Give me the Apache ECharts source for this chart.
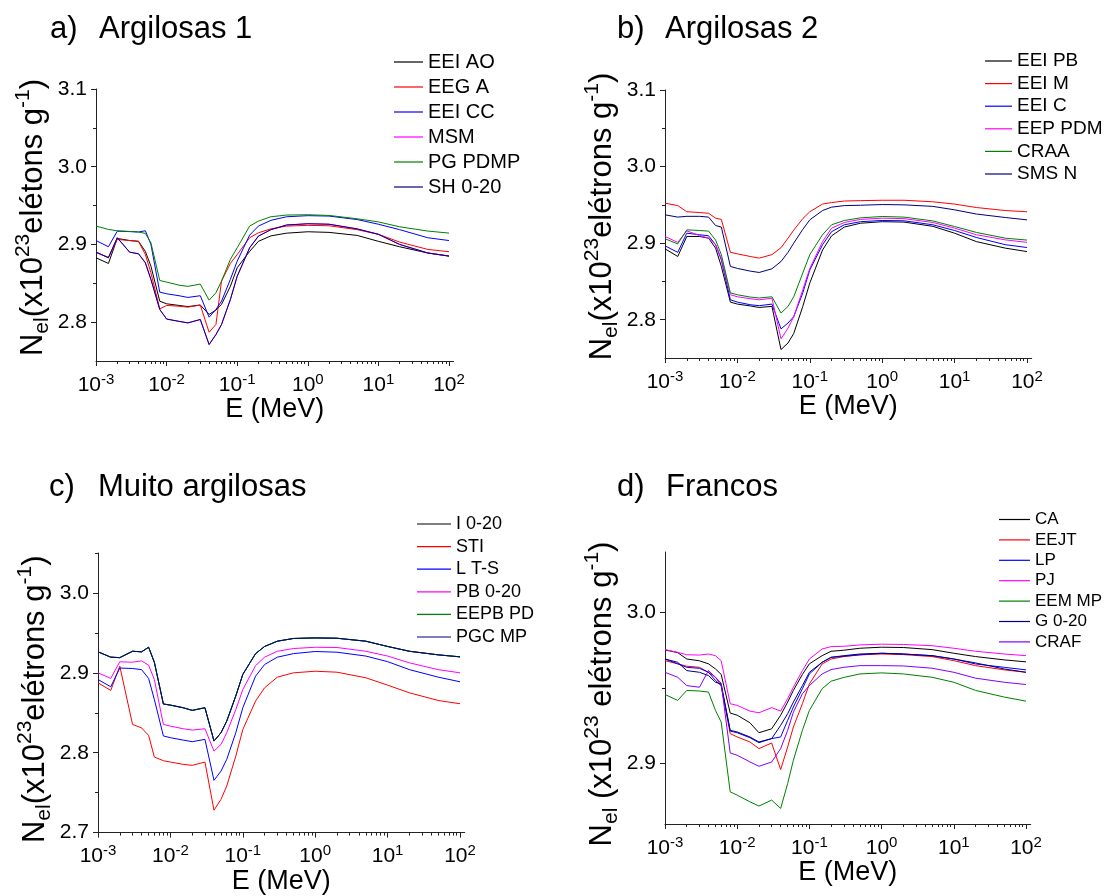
<!DOCTYPE html>
<html><head><meta charset="utf-8">
<script src="https://cdn.jsdelivr.net/npm/echarts@6/dist/echarts.min.js"></script>
<style>html,body{margin:0;padding:0;background:#fff}#c{width:1105px;height:896px}</style>
</head><body><div id="c"></div>
<script>
// Photon energy grid (MeV)
const energies = [0.001,0.0015,0.002,0.003,0.004,0.005,0.006,0.008,0.01,0.015,0.02,0.03,0.04,0.05,0.06,0.08,0.1,0.15,0.2,0.3,0.5,1,2,5,10,20,50,100];

// a) Argilosas 1
const a_EEI_AO  = [2.8828,2.8755,2.9077,2.905,2.904,2.891,2.872,2.827,2.8236,2.8215,2.820,2.822,2.810,2.8155,2.823,2.846,2.870,2.891,2.904,2.911,2.9145,2.9163,2.9155,2.9116,2.904,2.897,2.889,2.885];
const a_EEG_A   = [2.890,2.883,2.9064,2.905,2.904,2.887,2.8635,2.817,2.8215,2.8205,2.8193,2.822,2.787,2.797,2.853,2.8755,2.887,2.9086,2.915,2.920,2.9236,2.9245,2.924,2.919,2.913,2.903,2.8936,2.8906];
const a_EEI_CC  = [2.905,2.897,2.917,2.9165,2.916,2.9176,2.900,2.8386,2.8365,2.834,2.8318,2.834,2.8064,2.8163,2.827,2.855,2.8785,2.912,2.9236,2.931,2.9356,2.937,2.9365,2.932,2.926,2.919,2.9086,2.905];
const a_MSM     = [2.890,2.883,2.9086,2.890,2.888,2.8764,2.855,2.8163,2.804,2.801,2.799,2.8034,2.7712,2.784,2.797,2.829,2.859,2.8957,2.9107,2.919,2.925,2.9266,2.926,2.920,2.913,2.900,2.889,2.885];
const a_PG_PDMP = [2.9236,2.9193,2.9176,2.9167,2.916,2.9142,2.902,2.8536,2.8515,2.8476,2.846,2.849,2.8283,2.8378,2.8528,2.8807,2.8957,2.9236,2.930,2.9356,2.9378,2.9382,2.9373,2.933,2.929,2.9227,2.9172,2.9146];
const a_SH_0_20 = [2.890,2.883,2.9086,2.890,2.888,2.8764,2.855,2.8163,2.804,2.801,2.799,2.8034,2.7712,2.784,2.797,2.829,2.859,2.8957,2.9107,2.919,2.925,2.9266,2.926,2.920,2.913,2.900,2.889,2.885];

// b) Argilosas 2
const b_EEI_PB  = [2.8926,2.8826,2.9087,2.9087,2.9065,2.8935,2.8696,2.823,2.8204,2.818,2.816,2.8174,2.761,2.7696,2.782,2.8174,2.848,2.891,2.9096,2.921,2.926,2.928,2.9275,2.922,2.913,2.902,2.8935,2.889];
const b_EEI_M   = [2.9522,2.949,2.941,2.940,2.939,2.9326,2.931,2.888,2.886,2.8826,2.8804,2.885,2.894,2.9065,2.917,2.932,2.941,2.951,2.953,2.955,2.9555,2.956,2.956,2.954,2.951,2.9465,2.9426,2.941];
const b_EEI_C   = [2.8965,2.888,2.913,2.911,2.9096,2.898,2.878,2.826,2.823,2.8196,2.8183,2.8204,2.788,2.7957,2.804,2.835,2.865,2.898,2.915,2.924,2.928,2.9296,2.9292,2.924,2.9165,2.9074,2.898,2.8943];
const b_EEP_PDM = [2.9087,2.901,2.916,2.910,2.9065,2.898,2.880,2.8326,2.830,2.8274,2.826,2.828,2.775,2.789,2.804,2.839,2.867,2.902,2.9196,2.927,2.931,2.9326,2.932,2.927,2.9196,2.911,2.9043,2.901];
const b_CRAA    = [2.9057,2.899,2.9174,2.9165,2.9157,2.904,2.885,2.835,2.8326,2.8296,2.8283,2.830,2.8087,2.8174,2.830,2.861,2.885,2.911,2.924,2.9296,2.933,2.9348,2.934,2.929,2.9217,2.914,2.9065,2.904];
const b_SMS_N   = [2.937,2.934,2.935,2.935,2.934,2.923,2.921,2.8696,2.867,2.8635,2.8617,2.8665,2.876,2.888,2.900,2.918,2.9304,2.9426,2.947,2.949,2.9495,2.9504,2.950,2.948,2.9435,2.938,2.9335,2.9304];

// c) Muito argilosas
const c_I_0_20   = [2.9263,2.9196,2.919,2.927,2.9263,2.932,2.9133,2.861,2.8596,2.8563,2.853,2.8563,2.8146,2.825,2.8396,2.871,2.898,2.924,2.933,2.9396,2.943,2.9437,2.9433,2.9396,2.933,2.927,2.9225,2.920];
const c_STI      = [2.8875,2.878,2.9083,2.8354,2.831,2.8217,2.7946,2.790,2.7883,2.7854,2.7842,2.7883,2.728,2.7417,2.7583,2.7958,2.829,2.8646,2.8813,2.8946,2.900,2.902,2.9008,2.8938,2.8846,2.875,2.8654,2.8613];
const c_L_T_S    = [2.8917,2.8825,2.906,2.9054,2.904,2.893,2.8667,2.821,2.8188,2.8158,2.8138,2.8167,2.7654,2.777,2.7917,2.825,2.8563,2.8958,2.9104,2.9196,2.924,2.9267,2.9258,2.921,2.914,2.904,2.8946,2.8888];
const c_PB_0_20  = [2.900,2.893,2.9138,2.9133,2.915,2.9096,2.8917,2.8354,2.8333,2.830,2.8283,2.830,2.802,2.8104,2.825,2.854,2.879,2.909,2.9196,2.927,2.9304,2.932,2.9317,2.927,2.921,2.9125,2.904,2.900];
const c_EEPB_PD  = [2.9263,2.9196,2.919,2.927,2.9263,2.932,2.9133,2.861,2.8596,2.8563,2.853,2.8563,2.8146,2.825,2.8396,2.871,2.898,2.924,2.933,2.9396,2.943,2.9437,2.9433,2.9396,2.933,2.927,2.9225,2.920];
const c_PGC_MP   = [2.9263,2.9196,2.919,2.927,2.9263,2.932,2.9133,2.861,2.8596,2.8563,2.853,2.8563,2.8146,2.825,2.8396,2.871,2.898,2.924,2.933,2.9396,2.943,2.9437,2.9433,2.9396,2.933,2.927,2.9225,2.920];

// d) Francos
const d_CA     = [2.9752,2.9734,2.9692,2.968,2.966,2.9626,2.959,2.9334,2.932,2.927,2.9204,2.923,2.932,2.9407,2.9484,2.959,2.966,2.9714,2.9743,2.975,2.9763,2.977,2.9768,2.9754,2.973,2.9708,2.9686,2.9673];
const d_EEJT   = [2.9681,2.966,2.9644,2.9637,2.9604,2.9571,2.9516,2.9198,2.9176,2.9143,2.9099,2.9136,2.896,2.911,2.9242,2.9396,2.9527,2.9659,2.9692,2.9708,2.9719,2.9725,2.9721,2.9708,2.9681,2.9648,2.962,2.9604];
const d_LP     = [2.9692,2.966,2.9637,2.963,2.9604,2.955,2.9516,2.9215,2.9204,2.9171,2.9138,2.9165,2.9176,2.9286,2.9374,2.9495,2.9593,2.967,2.9703,2.971,2.972,2.973,2.9725,2.9714,2.9692,2.9659,2.9637,2.962];
const d_PJ     = [2.9754,2.9736,2.972,2.9718,2.9725,2.9714,2.968,2.9396,2.9385,2.9347,2.9336,2.937,2.9347,2.943,2.9505,2.9615,2.9692,2.9758,2.9774,2.9776,2.9785,2.979,2.9788,2.978,2.9763,2.9743,2.9725,2.9714];
const d_EEM_MP = [2.9457,2.9418,2.9484,2.948,2.9473,2.9352,2.9275,2.8813,2.8791,2.8747,2.8719,2.8758,2.8703,2.8868,2.9022,2.922,2.9352,2.9495,2.9545,2.957,2.9593,2.960,2.9593,2.9571,2.9538,2.9484,2.944,2.9413];
const d_G_0_20 = [2.9692,2.967,2.9615,2.9604,2.9582,2.9538,2.9527,2.922,2.9209,2.9176,2.9143,2.9165,2.9253,2.933,2.9407,2.9516,2.9604,2.967,2.9703,2.9714,2.9725,2.973,2.9725,2.9714,2.9692,2.9666,2.9626,2.9604];
const d_CRAF   = [2.9604,2.9571,2.9516,2.9505,2.9615,2.9571,2.9532,2.907,2.9055,2.9011,2.8982,2.901,2.9099,2.922,2.934,2.9462,2.9516,2.9593,2.9622,2.9637,2.9648,2.9648,2.9646,2.9631,2.9604,2.9565,2.9538,2.9523];

// tick labels / positions
const xDecadeExps = [-3,-2,-1,0,1,2];
const yMajorAB = [2.8,2.9,3.0,3.1], yMinorAB = [2.85,2.95,3.05];
const yMajorC = [2.7,2.8,2.9,3.0], yMinorC = [2.75,2.85,2.95,3.05];
const yMajorD = [2.9,3.0], yMinorD = [2.95];

const COL = {black:'#000000', red:'#ff0000', blue:'#0000ff', magenta:'#ff00ff', green:'#008000', navy:'#000080', violet:'#8000ff'};
const FONT = 'Liberation Sans, Arial, sans-serif';
const XEND = 2.065; // axis line runs slightly past 10^2

const panels = [
  { title:'a)', sub:'Argilosas 1', tx:[45,94], ty:9,
    grid:{left:96,top:89,width:353*(XEND+3)/5,height:272}, ymin:2.75, ymax:3.1, major:yMajorAB, minor:yMinorAB,
    yname:'N{sub|el}(x10{sup|23}elétons g{sup|-1})', namePad:[0,0,0,15],
    legend:{left:394, top:52, fs:20, gap:5, w:29},
    series:[['EEI AO',a_EEI_AO,COL.black],['EEG A',a_EEG_A,COL.red],['EEI CC',a_EEI_CC,COL.blue],['MSM',a_MSM,COL.magenta],['PG PDMP',a_PG_PDMP,COL.green],['SH 0-20',a_SH_0_20,COL.navy]] },
  { title:'b)', sub:'Argilosas 2', tx:[612,660], ty:9,
    grid:{left:665,top:90,width:362*(XEND+3)/5,height:268}, ymin:2.75, ymax:3.1, major:yMajorAB, minor:yMinorAB,
    yname:'N{sub|el}(x10{sup|23}elétrons g{sup|-1})', namePad:[0,0,0,15],
    legend:{left:985, top:51.5, fs:19, gap:3.6, w:27},
    series:[['EEI PB',b_EEI_PB,COL.black],['EEI M',b_EEI_M,COL.red],['EEI C',b_EEI_C,COL.blue],['EEP PDM',b_EEP_PDM,COL.magenta],['CRAA',b_CRAA,COL.green],['SMS N',b_SMS_N,COL.navy]] },
  { title:'c)', sub:'Muito argilosas', tx:[44,93], ty:467,
    grid:{left:98,top:553,width:362*(XEND+3)/5,height:280}, ymin:2.7, ymax:3.05, major:yMajorC, minor:yMinorC,
    yname:'N{sub|el}(x10{sup|23}elétrons g{sup|-1})', namePad:[0,13,0,0],
    legend:{left:417, top:515, fs:18, gap:4.6, w:34},
    series:[['I 0-20',c_I_0_20,COL.black],['STI',c_STI,COL.red],['L T-S',c_L_T_S,COL.blue],['PB 0-20',c_PB_0_20,COL.magenta],['EEPB PD',c_EEPB_PD,COL.green],['PGC MP',c_PGC_MP,COL.navy]] },
  { title:'d)', sub:'Francos', tx:[612,661], ty:467,
    grid:{left:665,top:552,width:361*(XEND+3)/5,height:272}, ymin:2.86, ymax:3.04, major:yMajorD, minor:yMinorD,
    yname:'N{sub|el} (x10{sup|23} elétrons g{sup|-1})', namePad:[0,12,0,0],
    legend:{left:999, top:511, fs:17, gap:3.4, w:31},
    series:[['CA',d_CA,COL.black],['EEJT',d_EEJT,COL.red],['LP',d_LP,COL.blue],['PJ',d_PJ,COL.magenta],['EEM MP',d_EEM_MP,COL.green],['G 0-20',d_G_0_20,COL.navy],['CRAF',d_CRAF,COL.violet]] }
];

const minorX = [];
for (let n = -3; n < 2; n++) for (let k = 2; k <= 9; k++) minorX.push(n + Math.log10(k));

const option = { animation:false, backgroundColor:'#fff', title:[], grid:[], xAxis:[], yAxis:[], legend:[], series:[] };
const axisCol = '#222';

panels.forEach((p, i) => {
  const tStyle = {fontSize:31, fontWeight:'normal', color:'#000', fontFamily:FONT};
  option.title.push({ text:p.title, left:p.tx[0], top:p.ty, textStyle:tStyle });
  option.title.push({ text:p.sub, left:p.tx[1], top:p.ty, textStyle:tStyle });
  option.grid.push(Object.assign({containLabel:false}, p.grid));
  const xi = option.xAxis.length;
  // main log x axis (data + labels)
  option.xAxis.push({
    type:'log', logBase:10, gridIndex:i, min:0.001, max:Math.pow(10, XEND), position:'bottom',
    name:'E (MeV)', nameLocation:'middle', nameGap:34,
    nameTextStyle:{fontSize:27, color:'#000', fontFamily:FONT},
    axisLine:{onZero:false, lineStyle:{color:axisCol, width:1}},
    axisTick:{show:false},
    splitLine:{show:false},
    axisLabel:{ margin:11, color:'#000', fontFamily:FONT, showMaxLabel:true,
      formatter: v => { const e = Math.log10(v); const r = Math.round(e);
        return Math.abs(e - r) > 0.01 ? '' : '{b|10}{s|' + r + '}'; },
      rich:{ b:{fontSize:21, lineHeight:26, fontFamily:FONT, color:'#000'},
             s:{fontSize:15, lineHeight:10, fontFamily:FONT, color:'#000', verticalAlign:'top'} } }
  });
  // major decade ticks (log10 space)
  option.xAxis.push({
    type:'value', gridIndex:i, min:-3, max:XEND, position:'bottom',
    axisLine:{show:false, onZero:false}, splitLine:{show:false}, axisLabel:{show:false},
    axisTick:{show:true, length:5, customValues:xDecadeExps, lineStyle:{color:axisCol}}
  });
  // minor ticks (log10 space)
  option.xAxis.push({
    type:'value', gridIndex:i, min:-3, max:XEND, position:'bottom',
    axisLine:{show:false, onZero:false}, splitLine:{show:false}, axisLabel:{show:false},
    axisTick:{show:true, length:3, customValues:minorX, lineStyle:{color:axisCol}}
  });
  const yi = option.yAxis.length;
  option.yAxis.push({
    type:'value', gridIndex:i, min:p.ymin, max:p.ymax, position:'left',
    name:p.yname, nameLocation:'middle', nameRotate:90, nameGap:43,
    nameTextStyle:{ color:'#000', fontFamily:FONT, fontSize:31, lineHeight:40, padding:p.namePad,
      rich:{ sub:{fontSize:21, lineHeight:18, verticalAlign:'bottom', fontFamily:FONT, color:'#000'},
             sup:{fontSize:21, lineHeight:14, verticalAlign:'top', fontFamily:FONT, color:'#000'} } },
    axisLine:{show:true, onZero:false, lineStyle:{color:axisCol, width:1}},
    axisTick:{show:true, length:5, customValues:p.major, lineStyle:{color:axisCol}},
    splitLine:{show:false},
    axisLabel:{ customValues:p.major, margin:9, fontSize:21, color:'#000', fontFamily:FONT, formatter: v => v.toFixed(1) }
  });
  option.yAxis.push({
    type:'value', gridIndex:i, min:p.ymin, max:p.ymax, position:'left',
    axisLine:{show:false, onZero:false}, splitLine:{show:false}, axisLabel:{show:false},
    axisTick:{show:true, length:3, customValues:p.minor, lineStyle:{color:axisCol}}
  });
  option.legend.push({
    data:p.series.map(s => s[0]), orient:'vertical', left:p.legend.left, top:p.legend.top, padding:0,
    icon:'rect', itemWidth:p.legend.w, itemHeight:1.2, itemGap:p.legend.gap, selectedMode:false,
    textStyle:{fontSize:p.legend.fs, color:'#000', fontFamily:FONT}
  });
  p.series.forEach(s => {
    option.series.push({
      name:s[0], type:'line', xAxisIndex:xi, yAxisIndex:yi, symbol:'none', smooth:false,
      lineStyle:{width:1, color:s[2]}, itemStyle:{color:s[2]},
      data: energies.map((e, k) => [e, s[1][k]])
    });
  });
});

const chart = echarts.init(document.getElementById('c'), null, {renderer:'canvas'});
chart.setOption(option);
</script>
</body></html>
